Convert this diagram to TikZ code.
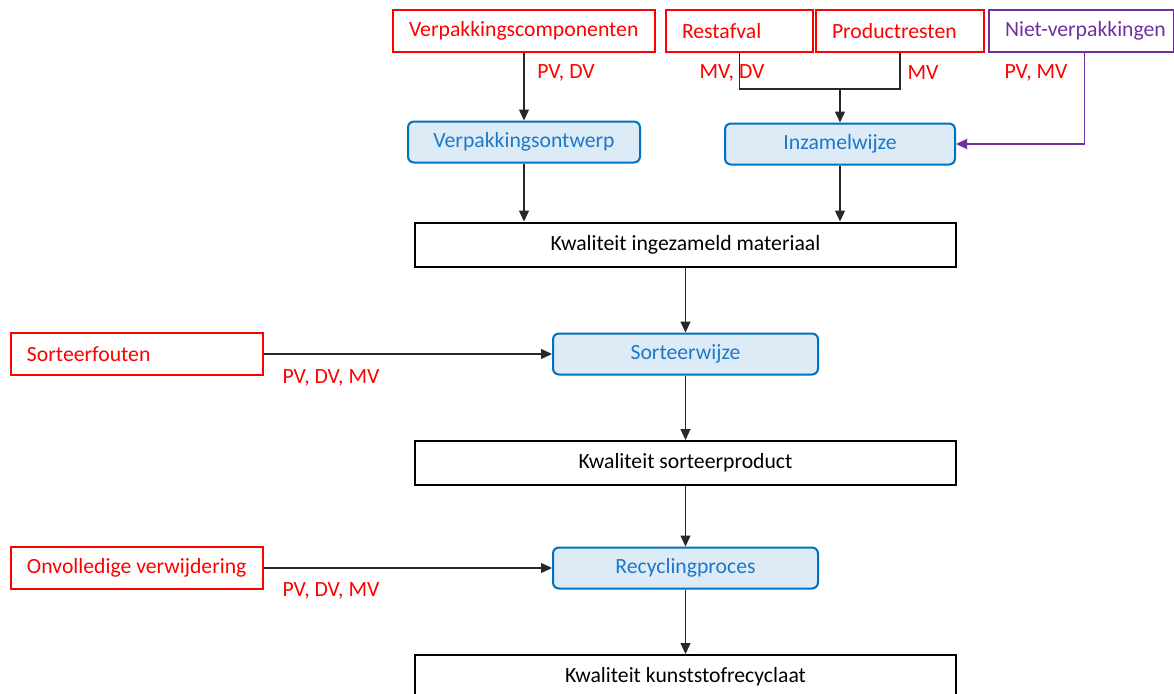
\documentclass[tikz,border=0pt]{standalone}
\usepackage{fontspec}
\setmainfont{Carlito}
\usetikzlibrary{arrows.meta}
\definecolor{myred}{RGB}{255,0,0}
\definecolor{mypurple}{RGB}{112,48,160}
\definecolor{blueborder}{RGB}{0,112,192}
\definecolor{bluefill}{RGB}{221,235,247}
\definecolor{bluetext}{RGB}{30,120,200}
\definecolor{conn}{RGB}{40,40,40}
\newcommand{\lbox}[2]{\makebox[#1][l]{#2}}
\begin{document}
\begin{tikzpicture}[x=1pt,y=-1pt,
  font=\fontsize{21.7}{26}\selectfont,
  redbox/.style={draw=myred, line width=2pt, text=myred, minimum height=42pt, inner xsep=16pt, inner ysep=0pt, anchor=west},
  purplebox/.style={redbox, draw=mypurple, text=mypurple},
  bluebox/.style={draw=blueborder, fill=bluefill, text=bluetext, line width=2pt, rounded corners=6pt, inner sep=0pt, minimum height=41pt},
  qualbox/.style={draw=black, line width=2pt, inner sep=0pt, minimum width=541pt, minimum height=44pt},
  lbl/.style={text=myred, inner sep=0pt},
  conline/.style={draw=conn, line width=1.2pt},
  arr/.style={conline, -{Triangle[length=11pt,width=10pt]}},
  parr/.style={draw=mypurple, line width=1.2pt, -{Triangle[length=11pt,width=10pt]}}
]
\useasboundingbox (0,0) rectangle (1174,693);

% top source boxes
\node[redbox] (VC) at (392,31) {\lbox{230pt}{Verpakkingscomponenten}};
\node[redbox] (RA) at (665,31) {\lbox{115pt}{Restafval}};
\node[redbox] (PR) at (815,31) {\lbox{136pt}{Productresten}};
\node[purplebox] (NV) at (988,31) {\lbox{153pt}{Niet-verpakkingen}};

% labels
\node[lbl] (lVC) at (566,73) {PV, DV};
\node[lbl] (lRA) at (732,73) {MV, DV};
\node[lbl] (lPR) at (923,73) {MV};
\node[lbl] (lNV) at (1036,73) {PV, MV};

% process boxes
\node[bluebox, minimum width=232pt] (VO) at (524,142) {Verpakkingsontwerp};
\node[bluebox, minimum width=230pt] (IZ) at (840,144) {Inzamelwijze};
\node[qualbox] (K1) at (685.5,244.5) {Kwaliteit ingezameld materiaal};
\node[bluebox, minimum width=265pt] (SW) at (685.5,354) {Sorteerwijze};
\node[redbox] (SF) at (10,354) {\lbox{220pt}{Sorteerfouten}};
\node[lbl] (lSF) at (331,378) {PV, DV, MV};
\node[qualbox] (K2) at (685.5,463) {Kwaliteit sorteerproduct};
\node[bluebox, minimum width=265pt] (RP) at (685.5,568) {Recyclingproces};
\node[redbox] (OV) at (10,568) {\lbox{220pt}{Onvolledige verwijdering}};
\node[lbl] (lOV) at (331,591) {PV, DV, MV};
\node[qualbox] (K3) at (685.5,677) {Kwaliteit kunststofrecyclaat};

% connectors
\coordinate (jy) at (0,89);
\draw[arr] (VC.south) -- (VC.south |- VO.north);
\draw[conline] (RA.south) |- (jy -| PR.south) -- (PR.south);
\draw[arr] (jy -| IZ.north) -- (IZ.north);
\draw[parr] (NV.south) ++(3,0) |- (IZ.east);
\draw[arr] (VO.south) -- (VO.south |- K1.north);
\draw[arr] (IZ.south) -- (IZ.south |- K1.north);
\draw[arr] (K1.south) -- (SW.north);
\draw[arr] (SF.east) -- (SW.west);
\draw[arr] (SW.south) -- (K2.north);
\draw[arr] (K2.south) -- (RP.north);
\draw[arr] (OV.east) -- (RP.west);
\draw[arr] (RP.south) -- (K3.north);
\end{tikzpicture}
\end{document}
